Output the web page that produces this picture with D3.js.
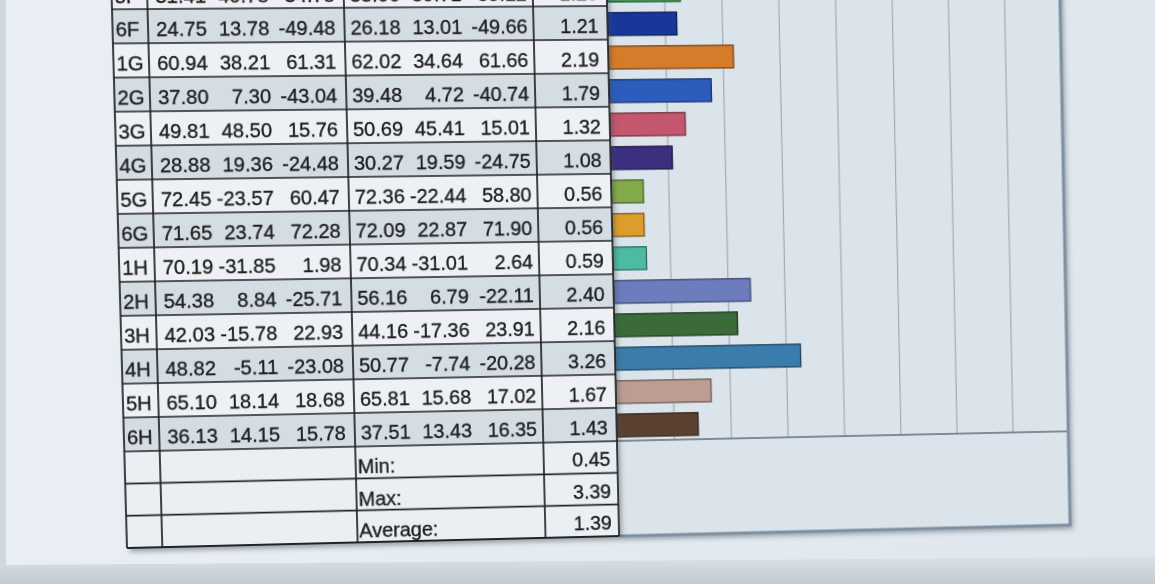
<!DOCTYPE html>
<html><head><meta charset="utf-8">
<script src="https://cdn.jsdelivr.net/npm/d3@7/dist/d3.min.js"></script>
<style>
html,body{margin:0;padding:0;width:1155px;height:584px;overflow:hidden;background:#e2e9f0;}
svg{position:absolute;left:0;top:0;transform-origin:0 0;overflow:visible;}
text{font-family:"Liberation Sans",Arial,sans-serif;}
</style></head><body>
<svg id="bg" width="1155" height="584"></svg>
<svg id="chartSvg"></svg>
<svg id="tableSvg"></svg>
<script>
// ---------- data ----------
const categories = ["5F","6F","1G","2G","3G","4G","5G","6G","1H","2H","3H","4H","5H","6H"];
const sampleL = [31.41, 24.75, 60.94, 37.80, 49.81, 28.88, 72.45, 71.65, 70.19, 54.38, 42.03, 48.82, 65.10, 36.13];
const sampleA = [40.78, 13.78, 38.21,  7.30, 48.50, 19.36,-23.57, 23.74,-31.85,  8.84,-15.78, -5.11, 18.14, 14.15];
const sampleB = [-34.78,-49.48, 61.31,-43.04, 15.76,-24.48, 60.47, 72.28,  1.98,-25.71, 22.93,-23.08, 18.68, 15.78];
const refL    = [33.06, 26.18, 62.02, 39.48, 50.69, 30.27, 72.36, 72.09, 70.34, 56.16, 44.16, 50.77, 65.81, 37.51];
const refA    = [39.71, 13.01, 34.64,  4.72, 45.41, 19.59,-22.44, 22.87,-31.01,  6.79,-17.36, -7.74, 15.68, 13.43];
const refB    = [-35.12,-49.66, 61.66,-40.74, 15.01,-24.75, 58.80, 71.90,  2.64,-22.11, 23.91,-20.28, 17.02, 16.35];
const deltaE  = [1.28, 1.21, 2.19, 1.79, 1.32, 1.08, 0.56, 0.56, 0.59, 2.40, 2.16, 3.26, 1.67, 1.43];
const summaryLabels = ["Min:", "Max:", "Average:"];
const summaryValues = [0.45, 3.39, 1.39];
const xTicks = [1, 2, 3, 4, 5, 6, 7];
const xMax = 8;
const barColors = ["#3f9a5c","#17389a","#d67b2a","#2c5cbc","#c4566e","#3d2f80","#82aa48","#dd9d2c",
                   "#4dbba3","#6c7cbc","#3b6b39","#3a7cab","#bc9d93","#5b4131"];

// ---------- background (monitor) ----------
const bg = d3.select("#bg");
const defsBg = bg.append("defs");
const gb = defsBg.append("linearGradient").attr("id","bez").attr("x1",0).attr("y1",0).attr("x2",0).attr("y2",1);
gb.append("stop").attr("offset","0%").attr("stop-color","#d9e0e6");
gb.append("stop").attr("offset","100%").attr("stop-color","#c3cad0");
const gl = defsBg.append("linearGradient").attr("id","lft").attr("x1",0).attr("y1",0).attr("x2",1).attr("y2",0);
gl.append("stop").attr("offset","0%").attr("stop-color","#e9eff5");
gl.append("stop").attr("offset","100%").attr("stop-color","#dfe6ed");
bg.append("rect").attr("width",1155).attr("height",584).attr("fill","url(#lft)");
bg.append("rect").attr("x",0).attr("y",0).attr("width",6).attr("height",584).attr("fill","#d0d7dd");
bg.append("path").attr("d","M0,565 L1155,557 L1155,584 L0,584 Z").attr("fill","url(#bez)");

// ---------- geometry in flat (screen-space) coordinates ----------
const OX = 20, OY = 60;
const colLabel = [0, 35], colG1 = [35, 230], colG2 = [230, 420], colVal = [420, 495];
const chartW = 453;
const g1Right = [93, 155, 221], g2Right = [286, 348, 414], valRight = 486;
const dataTop = -34, dataBottom = 442, tableBottom = 539;

const y = d3.scaleBand().domain(categories).range([dataTop, dataBottom]).padding(0);
const ys = d3.scaleBand().domain(summaryLabels).range([dataBottom, tableBottom]).padding(0);
const x = d3.scaleLinear().domain([0, xMax]).range([0, chartW]);

function shadow(svgSel) {
  const f = svgSel.append("defs").append("filter").attr("id", svgSel.attr("id") + "sh")
    .attr("x","-5%").attr("y","-5%").attr("width","115%").attr("height","115%");
  f.append("feDropShadow").attr("dx",3).attr("dy",4).attr("stdDeviation",2.5)
    .attr("flood-color","#3a4550").attr("flood-opacity",0.45);
  return "url(#" + svgSel.attr("id") + "sh)";
}

// ---------- chart ----------
const csvg = d3.select("#chartSvg").attr("width", OX + chartW + 40).attr("height", OY + tableBottom + 40);
const cfil = shadow(csvg);
const chart = csvg.append("g").attr("transform", `translate(${OX},${OY})`);
chart.append("rect").attr("x",0).attr("y",-OY).attr("width",chartW).attr("height",tableBottom+OY)
  .attr("fill","#dbe4eb").attr("filter",cfil);
const grid = chart.append("g").attr("transform", `translate(0,${dataBottom})`)
  .call(d3.axisBottom(x).tickValues(xTicks).tickSize(-(dataBottom + OY)).tickFormat(""));
grid.select(".domain").remove();
grid.selectAll(".tick line").attr("stroke","#9ba6b0").attr("stroke-width",1.1);
chart.selectAll("rect.bar").data(categories).enter().append("rect").attr("class","bar")
  .attr("x", x(0))
  .attr("y", c => y(c) + y.bandwidth() * 0.2)
  .attr("height", y.bandwidth() * 0.68)
  .attr("width", (c, i) => x(deltaE[i]))
  .attr("fill", (c, i) => barColors[i])
  .attr("stroke", (c, i) => d3.color(barColors[i]).darker(1.6))
  .attr("stroke-width", 1.3);
chart.append("line").attr("x1",0).attr("x2",x(xMax)).attr("y1",dataBottom).attr("y2",dataBottom)
  .attr("stroke","#5f6d7a").attr("stroke-width",1.6);
chart.append("line").attr("x1",x(xMax)).attr("x2",x(xMax)).attr("y1",-OY).attr("y2",tableBottom)
  .attr("stroke","#7d90a2").attr("stroke-width",3);
chart.append("line").attr("x1",0).attr("x2",x(xMax)+1.5).attr("y1",tableBottom).attr("y2",tableBottom)
  .attr("stroke","#7d90a2").attr("stroke-width",3);

// ---------- table ----------
const tsvg = d3.select("#tableSvg").attr("width", OX + colVal[1] + 40).attr("height", OY + tableBottom + 40);
const tfil = shadow(tsvg);
const root = tsvg.append("g").attr("transform", `translate(${OX},${OY})`);
root.append("rect").attr("x",0).attr("y",-OY).attr("width",colVal[1]).attr("height",tableBottom+OY)
  .attr("fill","#eaeff4").attr("filter",tfil);
const rows = root.append("g");
categories.forEach((c, i) => {
  rows.append("rect").attr("x",0).attr("y",y(c)).attr("width",colVal[1]).attr("height",y.bandwidth())
    .attr("fill", (i % 2 === 1) ? "#d4dce4" : "#edf1f5");
});
summaryLabels.forEach(s => {
  rows.append("rect").attr("x",0).attr("y",ys(s)).attr("width",colVal[1]).attr("height",ys.bandwidth())
    .attr("fill","#eaeff4");
});
const lines = root.append("g").attr("stroke","#222").attr("stroke-width",1.7);
categories.forEach(c => {
  lines.append("line").attr("x1",0).attr("x2",colVal[1]).attr("y1",y(c)).attr("y2",y(c));
});
summaryLabels.forEach(s => {
  lines.append("line").attr("x1",0).attr("x2",colVal[1]).attr("y1",ys(s)).attr("y2",ys(s));
});
lines.append("line").attr("x1",0).attr("x2",colVal[1]).attr("y1",tableBottom).attr("y2",tableBottom).attr("stroke-width",2);
[colLabel[0], colLabel[1], colG1[1], colG2[1], colVal[1]].forEach(xx => {
  lines.append("line").attr("x1",xx).attr("x2",xx).attr("y1",-OY).attr("y2",tableBottom);
});

const txt = root.append("g").attr("fill","#202020").attr("stroke","#202020").attr("stroke-width",0.35)
  .style("font-size","20px");
const fmt = v => v.toFixed(2);
const base = (c) => y(c) + y.bandwidth() - 6.5;
categories.forEach((c, i) => {
  txt.append("text").attr("x", 3).attr("y", base(c)).text(c);
  [sampleL[i], sampleA[i], sampleB[i]].forEach((v, k) => {
    txt.append("text").attr("x", g1Right[k]).attr("y", base(c)).attr("text-anchor","end").text(fmt(v));
  });
  [refL[i], refA[i], refB[i]].forEach((v, k) => {
    txt.append("text").attr("x", g2Right[k]).attr("y", base(c)).attr("text-anchor","end").text(fmt(v));
  });
  txt.append("text").attr("x", valRight).attr("y", base(c)).attr("text-anchor","end").text(fmt(deltaE[i]));
});
summaryLabels.forEach((s, i) => {
  const b = ys(s) + ys.bandwidth() - 5;
  txt.append("text").attr("x", colG2[0] + 2).attr("y", b).text(s);
  txt.append("text").attr("x", valRight + 2).attr("y", b - 2).attr("text-anchor","end").text(fmt(summaryValues[i]));
});

// ---------- perspective of the photographed screen ----------
function homography(src, dst) {
  const A = [], B = [];
  for (let i = 0; i < 4; i++) {
    const [xx, yy] = src[i], [u, v] = dst[i];
    A.push([xx, yy, 1, 0, 0, 0, -u * xx, -u * yy]); B.push(u);
    A.push([0, 0, 0, xx, yy, 1, -v * xx, -v * yy]); B.push(v);
  }
  const n = 8;
  for (let c = 0; c < n; c++) {
    let p = c;
    for (let r = c + 1; r < n; r++) if (Math.abs(A[r][c]) > Math.abs(A[p][c])) p = r;
    [A[c], A[p]] = [A[p], A[c]]; [B[c], B[p]] = [B[p], B[c]];
    for (let r = 0; r < n; r++) {
      if (r === c) continue;
      const fct = A[r][c] / A[c][c];
      for (let k = c; k < n; k++) A[r][k] -= fct * A[c][k];
      B[r] -= fct * B[c];
    }
  }
  const h = B.map((b, i) => b / A[i][i]);
  return `matrix3d(${[h[0], h[3], 0, h[6], h[1], h[4], 0, h[7], 0, 0, 1, 0, h[2], h[5], 0, 1].join(",")})`;
}
const quad = (w) => [[OX, OY], [OX + w, OY], [OX + w, OY + tableBottom], [OX, OY + tableBottom]];
document.getElementById("tableSvg").style.transform =
  homography(quad(colVal[1]), [[112, 9.3], [607, 6], [619, 536], [127, 548]]);
document.getElementById("chartSvg").style.transform =
  homography(quad(chartW), [[607, 6], [1060, 2.5], [1070, 525], [619, 536]]);
</script>
</body></html>
